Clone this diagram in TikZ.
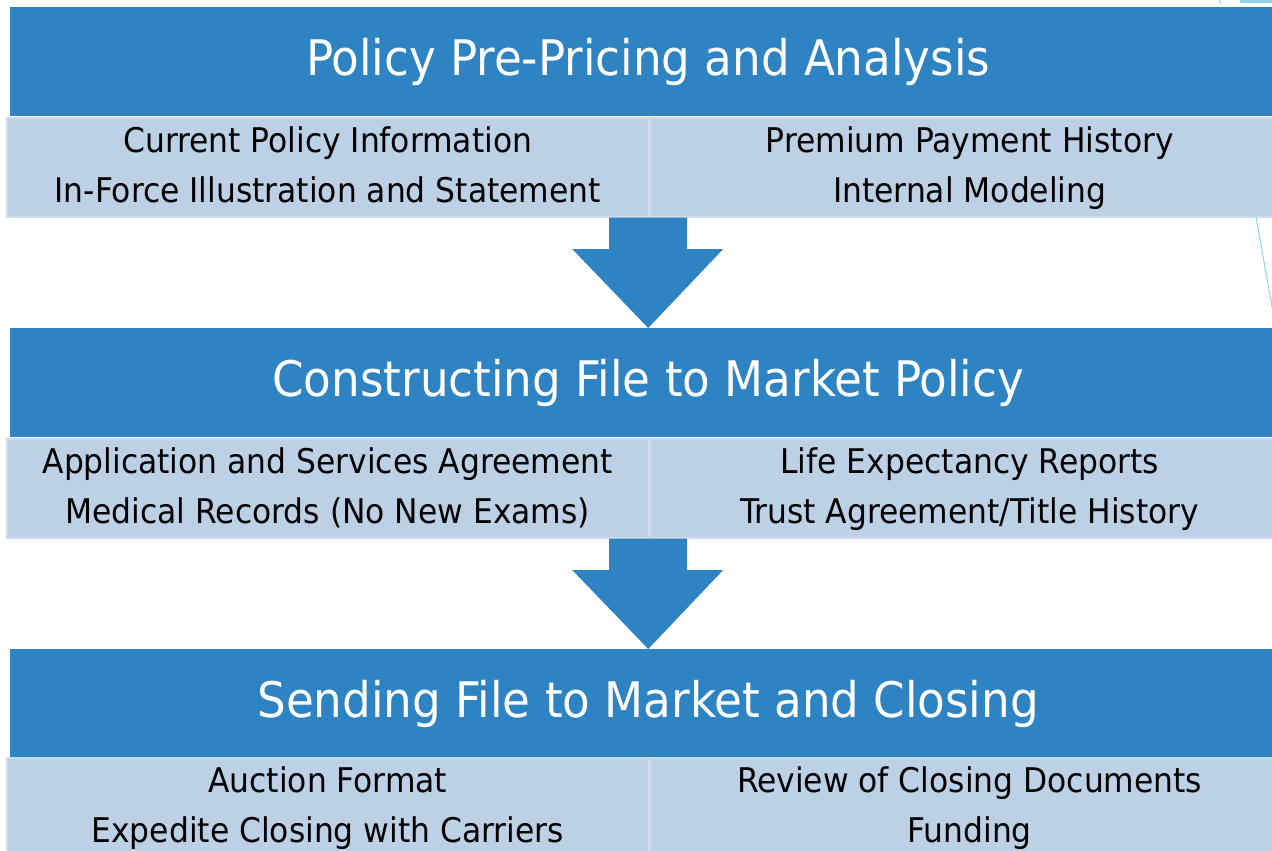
\documentclass[tikz,border=0pt]{standalone}
\usepackage{fontspec}
\setmainfont{DejaVu Sans Condensed}[FakeStretch=1.025]
\usetikzlibrary{calc}

\definecolor{stageblue}{HTML}{2E83C3}
\definecolor{cellfill}{HTML}{BCD1E6}
\definecolor{cellline}{HTML}{CFDBEA}
\definecolor{accentline}{HTML}{8FD3EE}

\tikzset{
  header/.style={rectangle, fill=stageblue, draw=none, anchor=north west,
    minimum width=1276pt, minimum height=109pt, inner sep=0pt,
    text=white, font={\fontsize{49}{55}\selectfont},
    text height=36pt, text depth=9pt},
  cell/.style={rectangle, fill=cellfill, draw=cellline, line width=1.5pt,
    anchor=north west, minimum height=99pt, inner sep=0pt, align=center,
    text=black, font={\fontsize{34}{50}\selectfont},
    text height=75pt, text depth=4pt},
  leftcell/.style={cell, minimum width=642pt},
  rightcell/.style={cell, minimum width=640pt},
  blockarrow/.style={fill=stageblue, draw=none},
}

\begin{document}
\begin{tikzpicture}[x=1pt, y=-1pt]
  \useasboundingbox (0,0) rectangle (1272,851);

  % stage 1
  \node[header] (h1) at (10,7) {Policy Pre-Pricing and Analysis};
  \node[leftcell] (a1) at (6,117) {Current Policy Information\\In-Force Illustration and Statement};
  \node[rightcell] (b1) at (649,117) {Premium Payment History\\Internal Modeling};

  % stage 2
  \node[header] (h2) at (10,328) {Constructing File to Market Policy};
  \node[leftcell] (a2) at (6,438) {Application and Services Agreement\\Medical Records (No New Exams)};
  \node[rightcell] (b2) at (649,438) {Life Expectancy Reports\\Trust Agreement/Title History};

  % stage 3
  \node[header] (h3) at (10,649) {Sending File to Market and Closing};
  \node[leftcell] (a3) at (6,757) {Auction Format\\Expedite Closing with Carriers};
  \node[rightcell] (b3) at (649,757) {Review of Closing Documents\\Funding};

  % block arrows between the stages, from the cell row down to the next header
  \foreach \up/\down in {a1/h2, a2/h3}{
    \fill[blockarrow]
      ($(\down.north |- \up.south)+(-39,0)$) -- ($(\down.north |- \up.south)+(39,0)$)
      -- ($(\down.north)+(39,-79)$) -- ($(\down.north)+(75,-79)$)
      -- (\down.north)
      -- ($(\down.north)+(-76,-79)$) -- ($(\down.north)+(-39,-79)$) -- cycle;
  }

  % thin accent lines at the right edge
  \draw[accentline, line width=1pt] (1256,217) -- (1273,312);
  \fill[accentline] (1240,0) rectangle (1272,3);
  \draw[accentline, line width=1pt] (1219,0) -- (1221,4);
\end{tikzpicture}
\end{document}
